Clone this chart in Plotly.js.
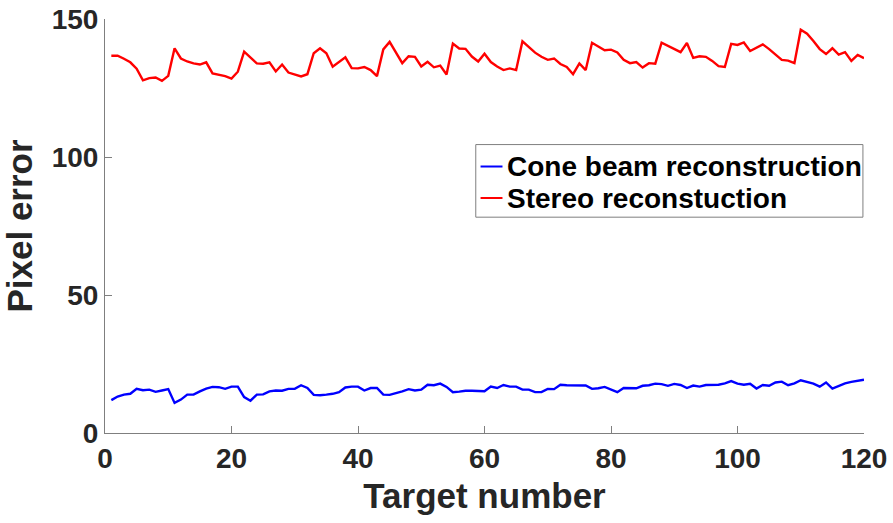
<!DOCTYPE html>
<html>
<head>
<meta charset="utf-8">
<script src="https://cdn.plot.ly/plotly-3.0.1.min.js"></script>
<style>
  html, body { margin: 0; padding: 0; background: #fff; }
  #chart { width: 893px; height: 523px; }
</style>
</head>
<body>
<div id="chart"></div>
<script>
// Target numbers 1..120
const targetNumber = [
  1, 2, 3, 4, 5, 6, 7, 8, 9, 10, 11, 12, 13, 14, 15, 16, 17, 18, 19, 20,
  21, 22, 23, 24, 25, 26, 27, 28, 29, 30, 31, 32, 33, 34, 35, 36, 37, 38, 39, 40,
  41, 42, 43, 44, 45, 46, 47, 48, 49, 50, 51, 52, 53, 54, 55, 56, 57, 58, 59, 60,
  61, 62, 63, 64, 65, 66, 67, 68, 69, 70, 71, 72, 73, 74, 75, 76, 77, 78, 79, 80,
  81, 82, 83, 84, 85, 86, 87, 88, 89, 90, 91, 92, 93, 94, 95, 96, 97, 98, 99, 100,
  101, 102, 103, 104, 105, 106, 107, 108, 109, 110, 111, 112, 113, 114, 115, 116, 117, 118, 119, 120
];

// Pixel error of the cone beam reconstruction
const coneBeamError = [
  11.9, 13.2, 13.9, 14.2, 16.0, 15.5, 15.7, 14.9, 15.4, 15.9,
  10.9, 12.1, 13.9, 13.9, 15.1, 16.1, 16.7, 16.6, 16.0, 16.8,
  16.8, 13.0, 11.7, 13.9, 14.0, 15.1, 15.4, 15.3, 16.0, 16.0,
  17.3, 16.3, 13.8, 13.7, 13.9, 14.2, 14.8, 16.5, 16.8, 16.8,
  15.4, 16.3, 16.3, 13.9, 13.8, 14.4, 15.1, 15.9, 15.4, 15.7,
  17.5, 17.3, 17.9, 16.7, 14.8, 15.0, 15.3, 15.3, 15.1, 15.1,
  16.8, 16.3, 17.4, 16.8, 16.8, 15.7, 15.7, 14.8, 14.8, 16.0,
  15.9, 17.5, 17.3, 17.2, 17.2, 17.2, 16.0, 16.2, 16.7, 15.6,
  14.8, 16.3, 16.2, 16.2, 17.1, 17.3, 17.9, 17.7, 17.1, 17.8,
  17.4, 16.3, 17.2, 16.8, 17.4, 17.5, 17.5, 18.0, 18.8, 17.9,
  17.5, 17.8, 16.1, 17.4, 17.1, 18.3, 18.6, 17.3, 18.0, 19.1,
  18.6, 17.9, 16.8, 18.3, 16.1, 17.2, 18.0, 18.5, 18.8, 19.3
];

// Pixel error of the stereo reconstruction
const stereoError = [
  136.7, 136.7, 135.6, 134.3, 132.0, 127.8, 128.6, 128.8, 127.6, 129.4,
  139.4, 135.7, 134.6, 133.9, 133.5, 134.3, 130.3, 129.9, 129.3, 128.4,
  130.9, 138.2, 136.2, 133.9, 133.8, 134.3, 131.0, 133.5, 130.6, 129.9,
  129.2, 130.0, 137.6, 139.4, 137.6, 132.7, 134.4, 136.1, 132.2, 132.1,
  132.6, 131.5, 129.3, 139.0, 141.7, 137.9, 134.0, 136.5, 136.3, 132.8,
  134.5, 132.5, 133.1, 129.9, 141.1, 139.3, 139.2, 136.4, 134.6, 137.4,
  134.4, 132.8, 131.5, 132.1, 131.5, 141.9, 139.9, 137.8, 136.3, 135.2,
  135.7, 133.7, 132.6, 130.0, 133.9, 131.5, 141.4, 139.9, 138.7, 138.9,
  137.9, 135.2, 134.0, 134.4, 132.4, 134.0, 133.8, 141.4, 140.2, 138.9,
  138.0, 141.3, 135.9, 136.5, 136.3, 134.8, 132.9, 132.6, 141.0, 140.6,
  141.5, 138.4, 139.6, 140.8, 139.1, 137.1, 135.2, 134.9, 134.0, 146.1,
  144.7, 142.0, 139.1, 137.3, 139.4, 137.1, 138.0, 134.8, 137.0, 135.8
];

const seriesNames = ['Cone beam reconstruction', 'Stereo reconstuction'];
const seriesColors = ['#0000ff', '#ff0000'];
const xTicks = [0, 20, 40, 60, 80, 100, 120];
const yTicks = [0, 50, 100, 150];

const FONT = 'Liberation Sans, Arial, Helvetica, sans-serif';
const AXIS_GREY = '#7f7f7f';
const TEXT_DARK = '#262626';

const traces = [
  {
    x: targetNumber, y: coneBeamError, type: 'scatter', mode: 'lines',
    name: seriesNames[0], line: { color: seriesColors[0], width: 2.4 }
  },
  {
    x: targetNumber, y: stereoError, type: 'scatter', mode: 'lines',
    name: seriesNames[1], line: { color: seriesColors[1], width: 2.4 }
  }
];

// Legend box drawn in paper coordinates, with short line samples
const legendBox = { x0: 0.4885, x1: 0.9986, y0: 0.5213, y1: 0.6967 };
const rowY = [0.6437, 0.5676];
const shapes = [
  {
    type: 'rect', xref: 'paper', yref: 'paper',
    x0: legendBox.x0, x1: legendBox.x1, y0: legendBox.y0, y1: legendBox.y1,
    line: { color: AXIS_GREY, width: 1 }, fillcolor: '#ffffff', layer: 'above'
  }
];
const annotations = [];
seriesNames.forEach((name, i) => {
  shapes.push({
    type: 'line', xref: 'paper', yref: 'paper',
    x0: 0.4948, x1: 0.5237, y0: rowY[i], y1: rowY[i],
    line: { color: seriesColors[i], width: 2 }, layer: 'above'
  });
  annotations.push({
    xref: 'paper', yref: 'paper', x: 0.5270, y: rowY[i],
    xanchor: 'left', yanchor: 'middle', showarrow: false,
    text: '<b>' + name + '</b>',
    font: { family: FONT, size: 28, color: '#000000' }
  });
});

const layout = {
  width: 893, height: 523,
  margin: { l: 105, r: 29, t: 19, b: 90, pad: 0 },
  paper_bgcolor: '#ffffff', plot_bgcolor: '#ffffff',
  showlegend: false,
  xaxis: {
    range: [0, 120], tickvals: xTicks, ticktext: xTicks.map(v => '<b>' + v + '</b>'),
    ticks: 'inside', ticklen: 7, tickcolor: AXIS_GREY, tickwidth: 1,
    showline: true, linecolor: AXIS_GREY, linewidth: 1, mirror: false,
    showgrid: false, zeroline: false,
    tickfont: { family: FONT, size: 28, color: TEXT_DARK },
    title: { text: '<b>Target number</b>', font: { family: FONT, size: 35, color: TEXT_DARK }, standoff: 10 }
  },
  yaxis: {
    range: [0, 150], tickvals: yTicks, ticktext: yTicks.map(v => '<b>' + v + '</b>'),
    ticks: 'inside', ticklen: 7, tickcolor: AXIS_GREY, tickwidth: 1,
    showline: true, linecolor: AXIS_GREY, linewidth: 1, mirror: false,
    showgrid: false, zeroline: false,
    tickfont: { family: FONT, size: 28, color: TEXT_DARK },
    title: { text: '<b>Pixel error</b>', font: { family: FONT, size: 35, color: TEXT_DARK }, standoff: 8 }
  },
  shapes: shapes,
  annotations: annotations
};

Plotly.newPlot('chart', traces, layout, { staticPlot: true, displayModeBar: false });
</script>
</body>
</html>
